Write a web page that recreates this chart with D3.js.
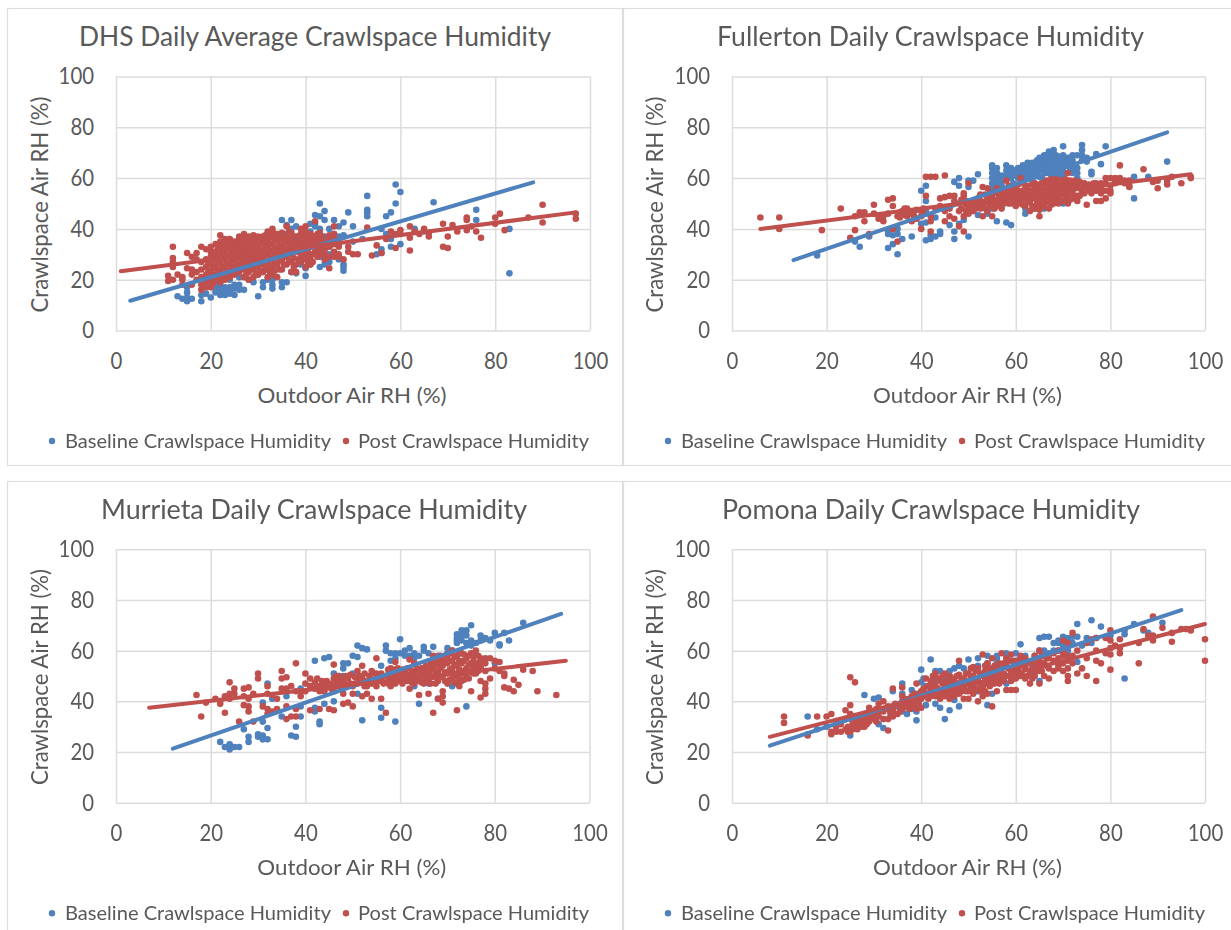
<!DOCTYPE html>
<html><head><meta charset="utf-8">
<script src="https://cdn.jsdelivr.net/npm/d3@7"></script>
<style>
html,body{margin:0;padding:0;background:#fff}
svg{display:block;filter:blur(0.55px)}
text{font-family:Lato,"Noto Sans",sans-serif;fill:#595959}
</style></head><body><svg id="c" width="1231" height="930"></svg>
<script>
// Rows: [outdoor RH, crawlspace RH, crawlspace RH, ...]
const dhsBaseline=[[83,22.5,40],[67,50.5],[76,47.5,43.5],[60,54.5,34,38],[59,57.5,50],[58,46.5,33,36],[57,45,38],[56,30.5,32,40],[55,30],[53,53,47.5,46.5,45],[52,36],[50,41,35],[49,46.5],[48,42.5,37.5,37,26,25,23.5],[47,41,37,34,28],[46,43.5,38,36,30],[45,33,27,30,40],[44,47,43.5,37,31,35,26],[43,50,45,29,25,38,40],[42,45.5,42,41,36,30,33],[41,42,26,35,39],[40,34,24.5,21.5],[39,26],[38,41,36,32,22.5],[37,43.5,40,23],[36,41.5,38,30,19],[35,43.5,28,19,17],[34,26],[33,28,20,18,16.5],[32,24,20],[31,19,17],[30,22,13.5],[29,19],[28,24,20],[27,16],[26,21,18,16],[25,18,14,16.5],[24,20,17,14.5,15.5],[23,16,14,15,17],[22,18,17,15,14,16.5,14.5],[21,18,15,16],[20,13],[19,17,14.5],[18,14,11.5],[16,12.5],[15,17,15,13,11.5],[14,12.5],[13,13.5],[63,40],[65,39]];
const dhsPost=[[11,19.5,21.5],[12,20,25,27,28.5,33],[13,22],[14,18,20,21],[15,24.5,30.5],[16,18,22,24,29],[17,20,23,28,30.5],[18,16,18,21,24,27,33],[19,17,19,22,25,28,32],[20,17,20,23,26,29,31,33],[21,20,22,25,28,31,34],[22,19,21,24,27,30,33,35,37.5],[23,20,22,25,28,31,33,36],[24,21,23,26,29,32,34,36],[25,22,25,28,30,33,35],[26,23,26,29,31,34,36,37],[27,21,24,27,30,32,35,37,38],[28,20,23,26,28,31,33,35,37],[29,21,24,27,29,32,34,36,37.5],[30,22,25,28,30,33,35,37],[31,23,26,29,31,34,36,37],[32,21,24,27,30,33,35,38,39],[33,22,25,28,31,34,37,39,40],[34,21,26,29,32,35,38],[35,24,28,31,33,36,38.5],[36,26,29,32,35,37,41],[37,23,27,30,33,36,38.5],[38,23,26,31,34,37],[39,27,30,33,35,38,40],[40,25,28,30,32,35,37,39,41],[41,26,28,33,36,38],[42,31,34,37,43],[43,30,33,36,38.5],[44,29,32,35,28,30],[45,24.5,29,33,36,37.5],[46,29,31,34,37,38,41],[47,30,33,29,35],[48,28],[49,31,33],[50,30],[51,30],[53,40.5],[54,29.5],[55,33.5],[56,30.5],[57,36],[58,39],[59,32.5,38],[60,39.5],[62,41,36.5,31.5],[63,39],[64,38],[65,40],[66,37,38.5],[69,42,33],[70,37,32.5],[71,41.5],[72,39],[74,44.5,43.5,39.5],[75,41],[76,39],[77,36.5],[80,44.5,42],[81,46],[82,39.5],[87,44.5],[90,49.5,42.5],[97,44,46]];
const dhsPostDense=[[26.5,24.5,27.5,30,32.5,35],[27.5,22,25.5,28.5,31,33.5,36],[28.5,24.5,27.5,30,32,34,36],[29.5,22.5,25.5,28.5,30.5,33,35],[30.5,23.5,26.5,29,31.5,34,36],[31.5,24.5,27.5,30,32.5,35,37.5],[25.5,23.5,26.5,29,32,34],[24.5,22,24.5,27.5,30.5,33,35],[23.5,21,23.5,26.5,29.5,32,34.5],[22.5,20,22.5,25.5,28.5,31.5,34],[21.5,21,23.5,26.5,29.5,32.5],[20.5,18.5,21.5,24.5,27.5,30],[19.5,18,20.5,23.5,26.5],[32.5,23,25.5,28.5,31.5,34,36.5],[33.5,23.5,26.5,29.5,32.5,35.5,38],[34.5,24,27.5,30.5,33.5,36.5],[35.5,26,29.5,32,34.5,37],[36.5,27.5,30.5,33.5,36,39],[37.5,25,28.5,31.5,34.5,37],[38.5,28,31.5,34.5,37],[39.5,28.5,31,34,36.5,39],[40.5,26.5,29,31,33.5,36],[41.5,27,30,34.5,37],[42.5,29,32,35,38],[43.5,31,34,37]];
const fullertonBaseline=[[18,29.5],[26,35],[27,33],[29,37],[33,32.5,38,39],[34,34,37.5,40],[35,30,38,40],[36,36],[38,37],[39,44],[40,42,55],[41,35.5,42.5,47,51,57],[42,36,37.5],[43,37,44.5],[44,38,39],[46,41.5],[47,36,39,58.5],[48,42,57,60],[49,43.5],[50,37,56.5,59],[51,59],[52,45.5,61.5],[54,46],[55,48,60,62,65,58,64,56],[56,43,58,60,62,64,54],[57,49,57,59,61,55],[58,42.5,53,61,63,65],[59,41.5,60,62,64],[60,50,54,61,63],[61,60,64],[62,46,48,62,64],[63,61,65],[64,48,63,66],[65,60.5,64,68],[66,48,62,65,67,69],[67,63,65,68,70.5],[68,63,66,69,71],[69,63,66,68.5],[70,50,61,64,66,69,72.5],[71,65,68],[72,67,69,62,64],[73,60,62,64,69],[74,67,69,73,71],[75,66.5,68],[76,61.5,62.5],[77,69.5],[78,65.5],[79,72.5],[85,52,60.5],[88,60.5],[92,66.5]];
const fullertonBaselineDense=[[58.5,60,62,64],[59.5,58,61,63],[60.5,60,62,64],[61.5,59,61,63,65],[62.5,60,62,64,66],[63.5,59,62,64,66],[64.5,61,63,65,67],[65.5,60,63,66,68],[66.5,62,64,67,69],[67.5,61,64,67,69],[68.5,60,62,65,67,69],[69.5,60,62,65,67],[70.5,62,65,67],[71.5,63,66,68]];
const fullertonPost=[[6,44.5],[10,40,44.5],[19,39.5],[23,48],[25,36.5],[26,39.5,45],[27,46.5],[28,43,46.5],[29,38],[30,46,49.5],[31,44,45],[32,43,45],[33,46,51.5],[34,40,49,52],[35,35,45],[36,46,47],[37,45,48],[38,43,46],[39,44,47.5],[40,40,45,47],[41,53,60.5],[42,39,43,45,60.5],[43,48,60.5],[44,49,52],[45,43,47,52.5,61],[46,45,48,53],[47,44,51,53],[48,41,47,50],[49,39,45,53,54],[50,46,48,58],[51,47,49],[52,50,52],[53,45,49,56.5],[54,47,52,56],[55,45,50,53],[56,49,56],[57,48,52],[58,51,54,59],[59,50,53,55],[60,49,52,56],[61,51,54,60],[62,49,53,56],[63,47,51,55],[64,48,52,56,58],[65,45,47.5,50,54,57],[66,49,52,55,58],[67,48,51,54,57],[68,50,53,56,59],[69,50,52,55,58],[70,51,54,57],[71,50,53,56,62],[72,52,55,58],[73,51,53,58],[74,55],[75,49.5,56.5],[76,54,57],[77,51,55,58],[78,51,54,56,58],[79,52,55,60,58],[80,55,57,60,54],[81,58,60,59],[82,59,65,60],[83,58,59],[84,56.5,57,59],[87,63.5],[89,58.5],[90,56,59],[92,57.5,59],[93,60.5],[95,58],[97,60,60.5]];
const fullertonPostDense=[[57.5,50,53,55.5],[58.5,50,52.5,55.5,57],[59.5,51,54,56.5],[60.5,50,53,55,57.5],[61.5,49.5,52,55,58],[62.5,50.5,52,54.5,57],[63.5,49,52.5,54.5,57.5],[64.5,49.5,51,53,55,57.5],[65.5,48.5,51,53,55.5,58],[66.5,50.5,53,55,57,59],[67.5,49.5,52,55,58,59.5],[68.5,51,54,57,59.5],[69.5,51,53.5,56,59],[70.5,52,55,58,59.5],[71.5,51.5,54.5,57,59],[72.5,53,56,59],[73.5,53,56,58.5],[74.5,54,57,58],[52.5,48,51,53.5],[53.5,48,50.5,53.5],[54.5,49,51,54],[55.5,48,51,54.5],[56.5,50,53,55],[48.5,48,51.5],[49.5,47,49.5,51],[50.5,47,50],[51.5,48,51],[40.5,46,48],[38.5,45,47],[37.5,46,47],[36.5,45.5,48],[35.5,44.5,46.5],[76.5,55.5,58],[75.5,55,57.5]];
const murrietaBaseline=[[22,24],[23,22],[24,21,23],[25,22],[26,22],[27,29],[28,24,26],[30,26,27],[31,25,26.5,32,39.5],[32,25,29.5,47],[33,41],[35,34],[36,42],[37,26.5],[38,26,30],[39,34,38,45],[42,36,37.5,56],[43,31,32],[44,39,57],[45,57.5],[46,40,51],[47,50],[48,53,55,50],[49,55],[50,51,58],[51,43,57.5,62],[52,32.5,61],[53,60.5],[56,33.5,37.5,54],[57,60,62],[58,56,59],[59,32,59,57],[60,59,64.5],[61,60,58],[62,61,58],[63,46,59,57],[64,39,58],[65,60,61.5],[66,47,59],[67,61.5],[68,41,58],[70,61,59],[71,46,60],[72,63,65,66.5,64],[73,64,68,66],[74,38,63,68,66],[75,62,64,70],[76,54,63],[77,64,66],[78,65],[79,64],[80,55,67],[81,62,62.5],[82,67],[83,64],[86,71]];
const murrietaPost=[[17,42.5],[18,34],[19,39.5],[21,41],[22,39,40],[23,35.5,42],[24,41,43,47.5],[25,43,45],[26,32],[27,38.5,42,45],[28,36,38,41,45.5],[29,32,43],[30,49,51],[31,38],[32,35,37,43,46],[33,36,42.5],[34,37,41],[35,45,49,52],[36,33,38,45,49.5],[37,34,46],[38,34,37,44,55],[39,42,44],[40,44,47,51],[41,36.5,46,49],[42,45,47.5],[43,37,44,46],[44,44,47],[45,37,46],[46,36.5,44,47,49,54.5],[47,46,50],[48,39,43,48],[49,39.5,49],[50,38,43,46],[51,47,52],[52,42,49,54],[53,43,46],[54,41,47,52],[55,46,51,57],[56,41,48,51],[57,35.5,50],[58,46,49,53],[59,47,50,55.5],[60,48,51],[61,49,52],[62,45,48,50,56.5],[63,47,51,55],[64,42.5,49,52],[65,47,50,53],[66,43,48,51,54],[67,35.5,50,53,58],[68,41,48,52,55],[69,39.5,42,44,50,54,57],[70,47,51,55,58],[71,49,53,56,60],[72,36.5,47,50,54,58],[73,48,51,55,59],[74,50,53,57],[75,44,52,55,59],[76,51,54,60],[77,41.5,48,53,56,54,57],[78,43,45,47,52,55,57],[79,49,57],[80,53,56],[81,52,55.5],[82,45.5,50,51],[83,45],[84,44,48.5],[85,46.5],[86,52.5],[88,52],[89,44],[93,42.5]];
const murrietaPostDense=[[56.5,47,50],[57.5,47,50.5,52.5],[58.5,48,50.5,52.5],[59.5,48.5,51,53],[60.5,47,49.5,52.5],[61.5,48,50.5,53],[62.5,47.5,49.5,52],[63.5,48,50,53],[64.5,47.5,50.5,53],[65.5,48.5,51.5,54],[66.5,47,49.5,52.5,55],[67.5,47,49.5,52,54.5,56.5],[68.5,49.5,53,56,58],[69.5,48,51.5,55.5],[70.5,48.5,52.5,56,59],[71.5,47.5,51,54.5,57.5],[72.5,46,49,52.5,56,59],[73.5,48.5,52,56,58.5],[74.5,49,51.5,54.5,58],[75.5,51,53,56,58],[76.5,52,55,58],[42.5,46,49],[43.5,45,48],[44.5,45.5,48],[45.5,45,47],[46.5,46,48,50],[47.5,47,49],[48.5,46.5,50],[49.5,47,50.5],[50.5,47,49.5],[51.5,48,50],[52.5,46,48,51],[53.5,48,50],[54.5,48.5,51],[55.5,48,50]];
const pomonaBaseline=[[16,27,34],[18,29],[20,30],[22,31],[24,33],[25,26.5],[26,33],[28,35,42.5],[29,34],[30,41],[31,31,41.5],[32,29.5],[33,37],[34,44],[35,38],[36,36,43,47],[37,35],[38,37,44.5],[39,32.5,36,43],[40,47.5,52.5],[40.5,44,49],[41,38.5,46],[42,44,56.5],[42.5,50,46],[43,39,48,52],[44,37.5,52],[44.5,49],[45,33,46,50],[46,36.5,50,52],[47,40.5,53],[48,38,47,54],[49,53],[50,48,56.5],[51,50],[52,44,57,54],[53,45],[54,38.5,58,55],[55,43,50],[56,55,57,58],[57,50,54],[58,47,59,57],[59,56],[60,59,56],[61,57,62.5],[62,56,58],[63,55],[64,52,58],[65,48,60,65],[66,58,65.5,60],[67,59,65.5],[68,63,60],[69,60,63,64],[70,62,65.5,63],[71,60,64,65],[72,65.5,63],[73,55.5,65.5,70.5],[74,62],[75,65],[76,63,72],[77,65],[78,69.5],[80,66],[83,49,66.5,68],[85,70.5],[87,68],[88,67],[91,71]];
const pomonaPost=[[11,31.5,34],[16,26.5],[18,34],[20,34],[21,27,28,35],[22,28,30],[23,28,31],[24,29,36.5],[25,28,30,35,38.5,49.5],[26,30,33,47.5],[27,31,33],[28,30,32],[29,32,37.5],[30,33,35],[31,34,36,39],[32,33,36,40],[33,28.5,33,38],[34,34,37,45],[35,35,38.5],[36,37,40,42,45.5],[37,38,40],[38,38,42],[39,37,41,47],[40,37.5,41,44],[41,43,49],[42,42,45,48],[43,42,46,51],[44,41,44,48],[45,42,45,51],[46,41,44,47,50],[47,42,45,48],[48,43,46,50.5,56],[49,41,46,49],[50,41,44,48,51],[51,43,47,50,53.5],[52,40,45,48,53],[53,42,46,50,58.5],[54,43,47,50,55],[55,38,48,52,57],[56,44,49,53],[57,48,51,59],[58,44.5,50,54,57],[59,44.5,48,52,58.5],[60,44.5,49,53],[61,50,55,58],[62,49,53,57],[63,47,51],[64,50,54,58],[65,47,52,56,60],[66,50,55],[67,49,53,57],[68,52,56,59],[69,53,57,54,60],[70,52,55,64,58,60],[71,48,53,56,63,50,58],[72,58,67,55],[73,51,60],[74,53],[75,50,57,63],[76,64.5],[77,48,56,60,65],[78,55],[79,59,65],[80,52.5,58.5,64,68,61],[81,62],[82,59,61,64.5],[86,55,63],[87,68.5],[88,66],[89,64,66,73.5],[91,69],[93,63.5,67],[95,68.5],[96,68.5],[97,68],[100,56,64.5]];
const pomonaPostDense=[[24.5,28,30],[25.5,29,32],[26.5,29,31],[27.5,30,34],[28.5,31,33],[29.5,34,36],[30.5,32,37],[33.5,35,36],[34.5,35,39],[35.5,36,39],[36.5,38,41],[37.5,37,39,41],[38.5,39,43],[39.5,39,42],[40.5,42,43,45],[41.5,41,46],[42.5,43,47,50],[43.5,43,45,49],[44.5,43,47,50],[45.5,43,46,48],[46.5,43,46,49],[47.5,44,47,50],[48.5,44,47,49],[49.5,44,47,51],[50.5,45,49,53],[51.5,45,48,52],[52.5,44,47,51],[53.5,44,48,52,54],[54.5,46,49,53],[55.5,47,50,54],[56.5,47,51,55],[57.5,48,51,55],[58.5,50,53,56],[59.5,49,52,56],[60.5,50,53,56],[61.5,50,54,57],[62.5,50,55],[63.5,49,53,56],[64.5,52,55],[65.5,52,55,58],[66.5,54,57]];
// Trend line end points [[x0,y0],[x1,y1]]
const dhsTrendB=[[3,11.7],[88,58.3]],dhsTrendP=[[1,23.3],[97,46.5]];
const fullertonTrendB=[[13,27.7],[92,78]],fullertonTrendP=[[6,40],[97,61.5]];
const murrietaTrendB=[[12,21.3],[94,74.5]],murrietaTrendP=[[7,37.5],[95,56]];
const pomonaTrendB=[[8,22.5],[95,76]],pomonaTrendP=[[8,26],[100,70.5]];
const xTickValues=[0,20,40,60,80,100], yTickValues=[0,20,40,60,80,100];
const seriesNames=["Baseline Crawlspace Humidity","Post Crawlspace Humidity"];
const xAxisTitle="Outdoor Air RH (%)", yAxisTitle="Crawlspace Air RH (%)";

const BLUE="#4f81bd", RED="#c0504d", GRID="#dcdcdc", BORDER="#dedede";
const panels=[
 {title:"DHS Daily Average Crawlspace Humidity",b:dhsBaseline,p:dhsPost.concat(dhsPostDense),tb:dhsTrendB,tp:dhsTrendP,
  box:[7,8,622,465],x:[116,590],y:[330.5,76.5],titleX:[79,551],titleY:46,leg:[52,65,331,346,358,589],ylabX:40},
 {title:"Fullerton Daily Crawlspace Humidity",b:fullertonBaseline.concat(fullertonBaselineDense),p:fullertonPost.concat(fullertonPostDense),tb:fullertonTrendB,tp:fullertonTrendP,
  box:[623,8,1240,465],x:[732,1205],y:[330.5,76.5],titleX:[717,1144],titleY:46,leg:[668,681,947,962,974,1205],ylabX:655},
 {title:"Murrieta Daily Crawlspace Humidity",b:murrietaBaseline,p:murrietaPost.concat(murrietaPostDense),tb:murrietaTrendB,tp:murrietaTrendP,
  box:[7,481,622,945],x:[116,589.5],y:[802.7,549.3],titleX:[101,527],titleY:519,leg:[52,65,331,346,358,589],ylabX:40},
 {title:"Pomona Daily Crawlspace Humidity",b:pomonaBaseline,p:pomonaPost.concat(pomonaPostDense),tb:pomonaTrendB,tp:pomonaTrendP,
  box:[623,481,1240,945],x:[732,1205],y:[802.7,549.3],titleX:[722,1140],titleY:519,leg:[668,681,947,962,974,1205],ylabX:655}
];
const flat=rows=>rows.flatMap(([x,...ys])=>ys.map(y=>[x,y]));
const svg=d3.select("#c");
panels.forEach(pn=>{
  const g=svg.append("g");
  const [bx0,by0,bx1,by1]=pn.box;
  g.append("rect").attr("x",bx0+.5).attr("y",by0+.5).attr("width",bx1-bx0).attr("height",by1-by0)
    .attr("fill","#fff").attr("stroke",BORDER).attr("stroke-width",1.2);
  const x=d3.scaleLinear().domain([0,100]).range(pn.x);
  const y=d3.scaleLinear().domain([0,100]).range(pn.y);
  const h=pn.y[0]-pn.y[1], w=pn.x[1]-pn.x[0];
  const ax=g.append("g").attr("transform",`translate(0,${pn.y[0]})`)
    .call(d3.axisBottom(x).tickValues(xTickValues).tickSize(-h).tickPadding(22));
  const ay=g.append("g").attr("transform",`translate(${pn.x[0]},0)`)
    .call(d3.axisLeft(y).tickValues(yTickValues).tickSize(-w).tickPadding(22));
  [ax,ay].forEach(a=>{
    a.select(".domain").remove();
    a.selectAll("line").attr("stroke",GRID).attr("stroke-width",1.5);
    a.selectAll("text").attr("font-size",23).attr("font-family",null).style("font-family","Lato").attr("fill","#595959")
      .attr("lengthAdjust","spacingAndGlyphs").attr("textLength",d=>String(d).length*11.8);
  });
  // title
  g.append("text").attr("x",pn.titleX[0]).attr("y",pn.titleY).attr("font-size",27)
    .attr("textLength",pn.titleX[1]-pn.titleX[0]).attr("lengthAdjust","spacingAndGlyphs").text(pn.title);
  // axis titles
  const cx=(pn.x[0]+pn.x[1])/2-1;
  g.append("text").attr("x",cx).attr("y",pn.y[0]+72).attr("text-anchor","middle").attr("font-size",22)
    .attr("textLength",189).attr("lengthAdjust","spacingAndGlyphs").text(xAxisTitle);
  g.append("text").attr("transform",`translate(${pn.ylabX+7.5},${(pn.y[0]+pn.y[1])/2+1}) rotate(-90)`).attr("text-anchor","middle")
    .attr("font-size",22.5).attr("textLength",216).attr("lengthAdjust","spacingAndGlyphs").text(yAxisTitle);
  // points, baseline under post
  [[pn.b,BLUE],[pn.p,RED]].forEach(([rows,col])=>{
    g.append("g").selectAll("circle").data(flat(rows)).join("circle")
      .attr("cx",d=>x(d[0])).attr("cy",d=>y(d[1])).attr("r",3.3).attr("fill",col);
  });
  // trend lines
  const ln=d3.line().x(d=>x(d[0])).y(d=>y(d[1]));
  [[pn.tb,BLUE],[pn.tp,RED]].forEach(([t,col])=>{
    g.append("path").attr("d",ln(t)).attr("fill","none").attr("stroke",col).attr("stroke-width",4).attr("stroke-linecap","round");
  });
  // legend
  const ly=pn.y[0]+110.5, [d1,t1a,t1b,d2,t2a,t2b]=pn.leg;
  [[d1,t1a,t1b,BLUE,seriesNames[0]],[d2,t2a,t2b,RED,seriesNames[1]]].forEach(([dx,ta,tb,col,name])=>{
    g.append("circle").attr("cx",dx).attr("cy",ly).attr("r",3.2).attr("fill",col);
    g.append("text").attr("x",ta).attr("y",ly+6.5).attr("font-size",20).attr("textLength",tb-ta)
      .attr("lengthAdjust","spacingAndGlyphs").text(name);
  });
});
</script></body></html>
